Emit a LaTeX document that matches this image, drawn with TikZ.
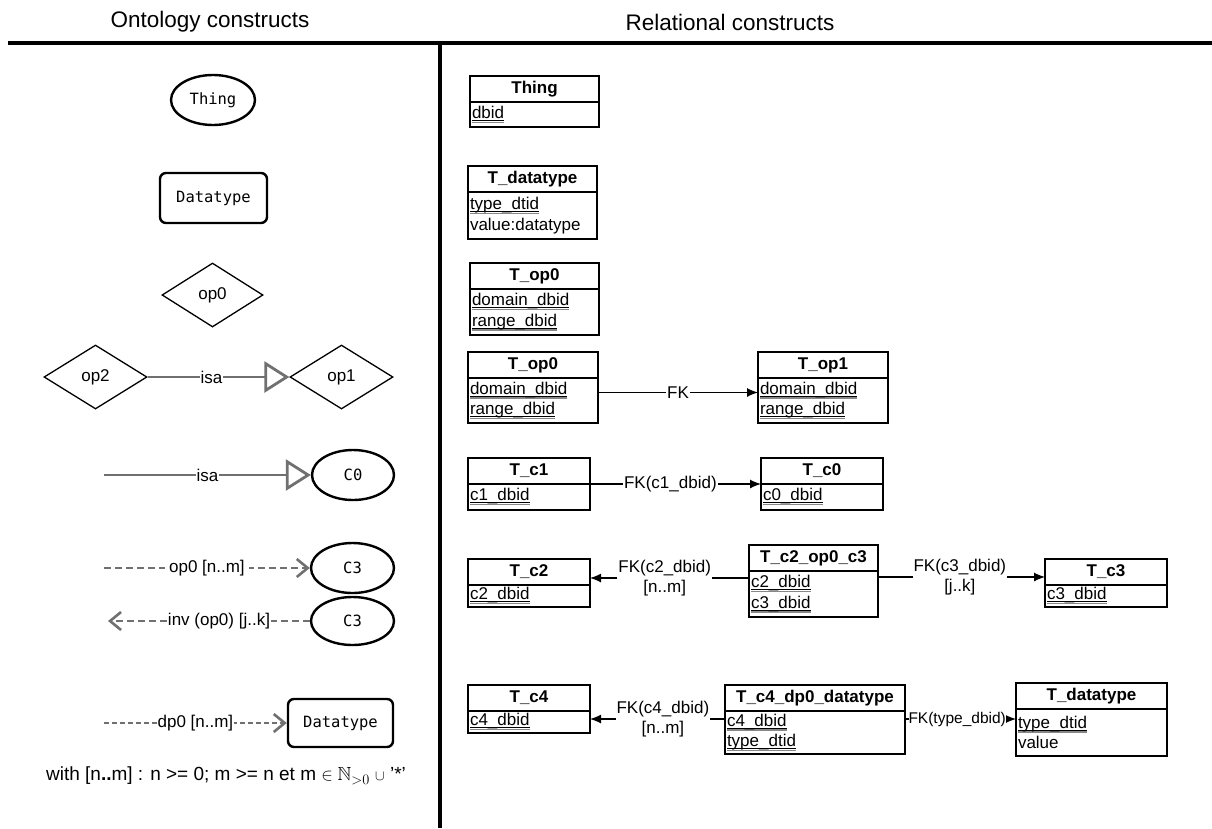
\documentclass[tikz,border=0pt]{standalone}
\usepackage{fontspec}
\usepackage{amssymb}
\setmainfont{Liberation Sans}
\setmonofont{DejaVu Sans Mono}
\usetikzlibrary{arrows.meta,shapes.geometric,calc}
\definecolor{isagray}{RGB}{112,112,112}
\definecolor{keygray}{RGB}{135,135,135}
\newcommand\labf{\fontsize{17}{20.5}\selectfont}
\newcommand\monof{\fontsize{15.5}{18}\selectfont\ttfamily}
\newcommand\pk[1]{\leavevmode\hbox{\setbox0=\hbox{#1}\rlap{\rule[-2.2pt]{\wd0}{0.8pt}}\rlap{\color{keygray}\rule[-4.4pt]{\wd0}{1.3pt}}\box0}}
\newcommand\dbtable[7]{%
  \node[tabhead,minimum width=#4pt,anchor=north west] (#1) at (#2,#3) {#6};
  \pgfmathsetmacro\tabtextw{#4-4}
  \node[tabbody,minimum width=#4pt,minimum height=#5pt,text width=\tabtextw pt,anchor=north west] (#1-b) at (#1.south west) {#7};}
\tikzset{
  cls/.style={ellipse,draw,line width=2.4pt,inner sep=0pt,font=\monof},
  dtype/.style={rectangle,draw,rounded corners=6pt,line width=2.4pt,inner sep=0pt,font=\monof},
  prop/.style={diamond,draw,line width=1.3pt,inner sep=0pt,font=\labf},
  lbl/.style={fill=white,inner sep=1pt,font=\labf},
  isa/.style={draw=isagray,line width=2.4pt,-{Triangle[open,length=25pt,width=31pt,line width=2.8pt]}},
  opedge/.style={draw=isagray,line width=2pt,dash pattern=on 7pt off 4pt,-{Straight Barb[length=11pt,width=18pt,line width=2.6pt]}},
  dpedge/.style={draw=isagray,line width=2pt,dash pattern=on 5pt off 3pt,-{Straight Barb[length=11pt,width=18pt,line width=2.6pt]}},
  tabhead/.style={draw,line width=1.2pt,minimum height=26pt,inner sep=0pt,outer sep=0pt,font=\labf\bfseries},
  tabbody/.style={draw,line width=1.2pt,inner xsep=2pt,inner ysep=0pt,outer sep=0pt,align=left,font=\labf},
  fk/.style={line width=1.2pt,-{Latex[length=11pt,width=9pt]}},
  fklbl/.style={fill=white,inner sep=1pt,align=center,font=\labf}
}
\begin{document}
\begin{tikzpicture}[x=1pt,y=-1pt]
  \useasboundingbox (0,0) rectangle (1212,828);
  %%%%% headings and separators %%%%%
  \node[font=\fontsize{22.5}{26}\selectfont] (ontotitle) at (210,22) {Ontology constructs};
  \node[font=\fontsize{22.5}{26}\selectfont] (reltitle) at (730,22) {Relational constructs};
  \draw[line width=4.5pt] (8,43) -- (1212,43);
  \draw[line width=3.5pt] (440,43) -- (440,828);

  %%%%% ontology side %%%%%
  \node[cls,minimum width=84pt,minimum height=50pt] (thing) at (213,100) {Thing};
  \node[dtype,minimum width=107pt,minimum height=50pt] (dtype) at (213.5,198) {Datatype};
  \node[prop,minimum width=101pt,minimum height=64pt] (op0) at (212.5,295) {op0};

  \node[prop,minimum width=103pt,minimum height=64pt] (op2) at (95.5,377) {op2};
  \node[prop,minimum width=103pt,minimum height=64pt] (op1) at (341.5,377) {op1};
  \draw[isa] (op2.east) -- node[lbl,pos=0.45]{isa} (op1.west);

  \node[cls,minimum width=82pt,minimum height=50pt] (c0) at (353,475) {C0};
  \coordinate (c1src) at (104,475);
  \draw[isa] (c1src) -- node[lbl,pos=0.5]{isa} (c0.west);

  \node[cls,minimum width=83pt,minimum height=50pt] (c3a) at (352.5,568) {C3};
  \coordinate (op0src) at (104,568);
  \draw[opedge] (op0src) -- node[lbl,inner xsep=4pt]{op0 [n..m]} (c3a.west);

  \node[cls,minimum width=83pt,minimum height=48pt] (c3b) at (352.5,621) {C3};
  \coordinate (invend) at (108,621);
  \draw[opedge] (c3b.west) -- node[lbl,pos=0.45]{inv (op0) [j..k]} (invend);

  \node[dtype,minimum width=105pt,minimum height=48pt] (dtype2) at (340.5,723) {Datatype};
  \coordinate (dp0src) at (104,723);
  \draw[dpedge] (dp0src) -- node[lbl]{dp0 [n..m]} (dtype2.west);

  \node[font=\fontsize{19}{23}\selectfont] (note) at (226,776) {with [n\textbf{..}m] : n >= 0; m >= n et m $\in\mathbb{N}_{>0}$ {\fontsize{14}{16}\selectfont$\cup$} '*'};

  %%%%% relational side %%%%%
  \dbtable{tthing}{470}{76}{129}{25}{Thing}{\pk{dbid}}
  \dbtable{tdt}{468}{166}{129}{47}{T\_datatype}{\pk{type\_dtid}\\value:datatype}
  \dbtable{top0}{470}{263}{129}{46}{T\_op0}{\pk{domain\_dbid}\\\pk{range\_dbid}}

  \dbtable{topa}{468}{352}{130}{45}{T\_op0}{\pk{domain\_dbid}\\\pk{range\_dbid}}
  \dbtable{topb}{758}{352}{130}{45}{T\_op1}{\pk{domain\_dbid}\\\pk{range\_dbid}}
  \draw[fk] ([yshift=8pt]topa-b.east) -- node[fklbl]{FK} ([yshift=8pt]topb-b.west);

  \dbtable{tc1}{468}{458}{122}{26}{T\_c1}{\pk{c1\_dbid}}
  \dbtable{tc0}{761}{458}{122}{26}{T\_c0}{\pk{c0\_dbid}}
  \draw[fk] (tc1.south east) -- node[fklbl,pos=0.47]{FK(c1\_dbid)} (tc0.south west);

  \dbtable{tc2}{468}{559}{122}{22}{T\_c2}{\pk{c2\_dbid}}
  \dbtable{tc2op0c3}{749}{545}{129}{46}{T\_c2\_op0\_c3}{\pk{c2\_dbid}\\\pk{c3\_dbid}}
  \dbtable{tc3}{1045}{559}{122}{22}{T\_c3}{\pk{c3\_dbid}}
  \draw[fk] ([yshift=-7pt]tc2op0c3.south west) -- node[fklbl,pos=0.53]{FK(c2\_dbid)\\{}[n..m]} ([yshift=-7pt]tc2op0c3.south west -| tc2.east);
  \draw[fk] ([yshift=-6pt]tc2op0c3.south east) -- node[fklbl,pos=0.49]{FK(c3\_dbid)\\{}[j..k]} ([yshift=-6pt]tc2op0c3.south east -| tc3.west);

  \dbtable{tc4}{468}{685}{122}{22}{T\_c4}{\pk{c4\_dbid}}
  \dbtable{tc4dp0}{725}{685}{180}{43}{T\_c4\_dp0\_datatype}{\pk{c4\_dbid}\\\pk{type\_dtid}}
  \dbtable{tdt2}{1016}{683}{151}{47}{T\_datatype}{\pk{type\_dtid}\\value}
  \draw[fk] ([yshift=-8pt]tc4dp0.south west) -- node[fklbl,pos=0.46]{FK(c4\_dbid)\\{}[n..m]} ([yshift=-8pt]tc4dp0.south west -| tc4.east);
  \draw[fk] ([yshift=-8pt]tc4dp0.south east) -- node[fklbl,pos=0.47,inner xsep=0pt,font=\fontsize{15.5}{18}\selectfont]{FK(type\_dbid)} ([yshift=-8pt]tc4dp0.south east -| tdt2.west);
\end{tikzpicture}
\end{document}
